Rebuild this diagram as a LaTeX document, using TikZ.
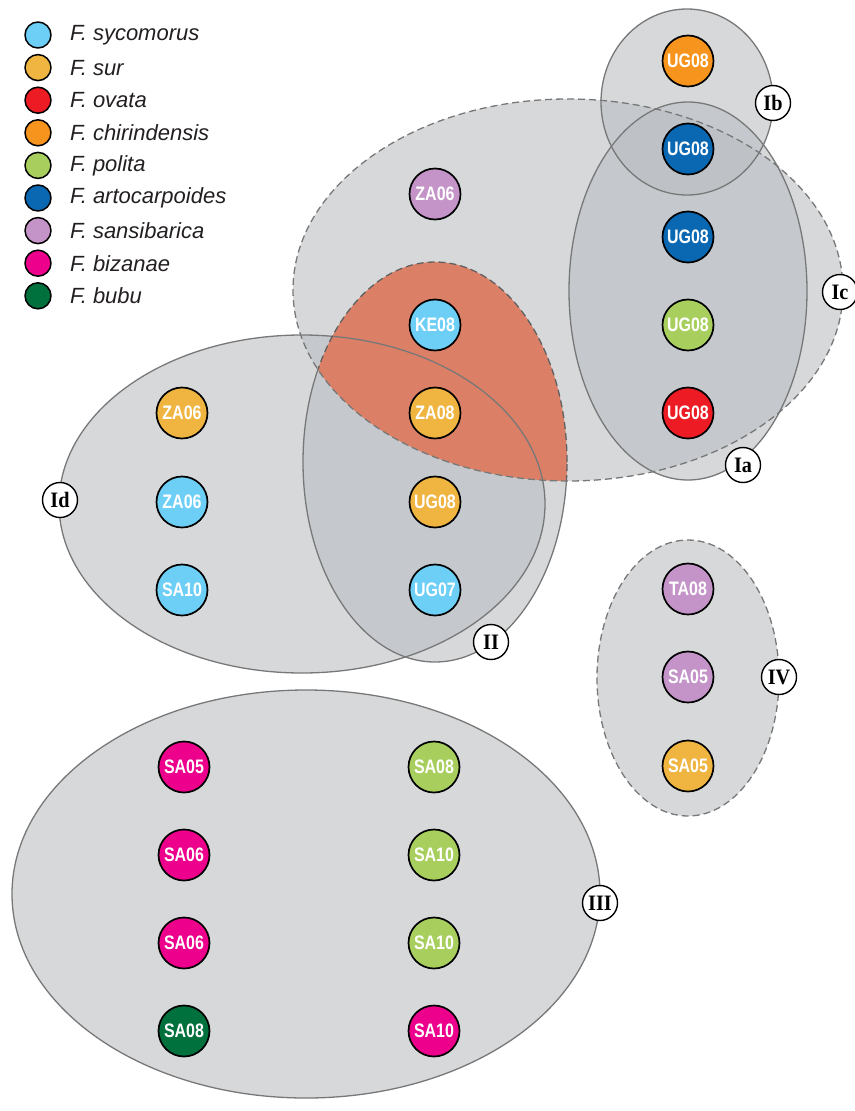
\documentclass[tikz,border=0pt]{standalone}
\usepackage{fontspec}
\setmainfont{Liberation Serif}
\newfontfamily\legfont{Liberation Sans}
\newfontfamily\nodefam[FakeStretch=0.82]{Liberation Sans}
\newfontfamily\grpfam[FakeStretch=0.92]{Liberation Serif}
\definecolor{csyc}{RGB}{110,207,246}
\definecolor{csur}{RGB}{240,180,65}
\definecolor{covat}{RGB}{237,28,36}
\definecolor{cchir}{RGB}{247,148,29}
\definecolor{cpol}{RGB}{168,207,94}
\definecolor{carto}{RGB}{10,104,179}
\definecolor{csans}{RGB}{196,148,200}
\definecolor{cbiz}{RGB}{236,0,140}
\definecolor{cbubu}{RGB}{0,112,60}
\definecolor{regcol}{RGB}{186,190,194}
\definecolor{orfill}{RGB}{219,128,102}
\definecolor{edgecol}{RGB}{120,120,120}
\definecolor{legtext}{RGB}{35,31,32}
\tikzset{
  regfill/.style={fill=regcol, fill opacity=0.6},
  solidline/.style={draw=edgecol, line width=1.3pt},
  dashline/.style={draw=edgecol, line width=1.3pt, dash pattern=on 7pt off 4pt},
  samp/.style={circle, draw=black, line width=1.7pt, minimum size=51pt, inner sep=0pt,
    text=white, font=\nodefam\bfseries\fontsize{19.5}{21}\selectfont},
  grp/.style={circle, draw=black, fill=white, line width=1.4pt, minimum size=35pt, inner sep=0pt,
    font=\grpfam\bfseries\fontsize{22}{24}\selectfont},
  legdot/.style={circle, draw=black, line width=1.5pt, minimum size=26pt, inner sep=0pt},
  legtxt/.style={anchor=west, inner sep=0pt, text=legtext, font=\legfont\itshape\fontsize{22}{24}\selectfont}
}
\begin{document}
\begin{tikzpicture}[x=1pt,y=-1pt,line join=round]
\useasboundingbox (0,0) rectangle (854,1111);
\def\Ia{(688,291) ellipse [x radius=119pt, y radius=189pt]}
\def\Ib{(687,102) ellipse [x radius=86pt, y radius=93pt]}
\def\Ic{(568,290) ellipse [x radius=275pt, y radius=191pt]}
\def\Id{(302,504) ellipse [x radius=243pt, y radius=169pt]}
\def\IIe{(435,462) ellipse [x radius=132pt, y radius=200pt]}
\def\IIIe{(306,894) ellipse [x radius=294pt, y radius=204pt]}
\def\IVe{(688,678) ellipse [x radius=91pt, y radius=138pt]}
% fills
\fill[regfill] \Ic;
\fill[regfill] \Ia;
\fill[regfill] \Ib;
\fill[regfill] \Id;
\fill[regfill] \IIe;
\fill[regfill] \IIIe;
\fill[regfill] \IVe;
\begin{scope}
  \clip \Ic;
  \fill[orfill] \IIe;
\end{scope}
% outlines
\draw[solidline] \Ia;
\draw[solidline] \Ib;
\draw[solidline] \Id;
\draw[solidline] \IIIe;
\draw[dashline] \IVe;
\begin{scope}[even odd rule]
  \clip (-10,-10) rectangle (870,1120) \Ic;
  \draw[solidline] \IIe;
\end{scope}
\begin{scope}
  \clip \Ic;
  \draw[dashline, draw=edgecol!80!black] \IIe;
\end{scope}
\draw[dashline] \Ic;
% legend
\foreach \i/\c/\t in {0/csyc/sycomorus,1/csur/sur,2/covat/ovata,3/cchir/chirindensis,4/cpol/polita,5/carto/artocarpoides,6/csans/sansibarica,7/cbiz/bizanae,8/cbubu/bubu}{
  \node[legdot, fill=\c] (lg\i) at (38,{35+32.6*\i}) {};
  \node[legtxt] (lt\i) at (70,{35+32.6*\i}) {F. \t};
}
% samples
\node[samp, fill=cchir] (n1) at (688,61) {UG08};
\node[samp, fill=carto] (n2) at (688,149) {UG08};
\node[samp, fill=carto] (n3) at (688,237) {UG08};
\node[samp, fill=cpol] (n4) at (688,325) {UG08};
\node[samp, fill=covat] (n5) at (688,413) {UG08};
\node[samp, fill=csans] (n6) at (435,194) {ZA06};
\node[samp, fill=csyc] (n7) at (435,325) {KE08};
\node[samp, fill=csur] (n8) at (435,413) {ZA08};
\node[samp, fill=csur] (n9) at (435,502) {UG08};
\node[samp, fill=csyc] (n10) at (435,590) {UG07};
\node[samp, fill=csur] (n11) at (182,413) {ZA06};
\node[samp, fill=csyc] (n12) at (182,502) {ZA06};
\node[samp, fill=csyc] (n13) at (182,590) {SA10};
\node[samp, fill=csans] (n14) at (688,589) {TA08};
\node[samp, fill=csans] (n15) at (688,677) {SA05};
\node[samp, fill=csur] (n16) at (688,766) {SA05};
\node[samp, fill=cbiz] (n17) at (184,767) {SA05};
\node[samp, fill=cbiz] (n18) at (184,855) {SA06};
\node[samp, fill=cbiz] (n19) at (184,943) {SA06};
\node[samp, fill=cbubu] (n20) at (184,1031) {SA08};
\node[samp, fill=cpol] (n21) at (434,767) {SA08};
\node[samp, fill=cpol] (n22) at (434,855) {SA10};
\node[samp, fill=cpol] (n23) at (434,943) {SA10};
\node[samp, fill=cbiz] (n24) at (434,1031) {SA10};
% group labels
\node[grp] (gIb) at (773,103) {Ib};
\node[grp] (gIc) at (840,292) {Ic};
\node[grp] (gIa) at (743,465) {Ia};
\node[grp] (gId) at (60,500) {Id};
\node[grp] (gII) at (491,642) {II};
\node[grp] (gIV) at (779,677) {IV};
\node[grp] (gIII) at (600,903) {III};
\end{tikzpicture}
\end{document}
